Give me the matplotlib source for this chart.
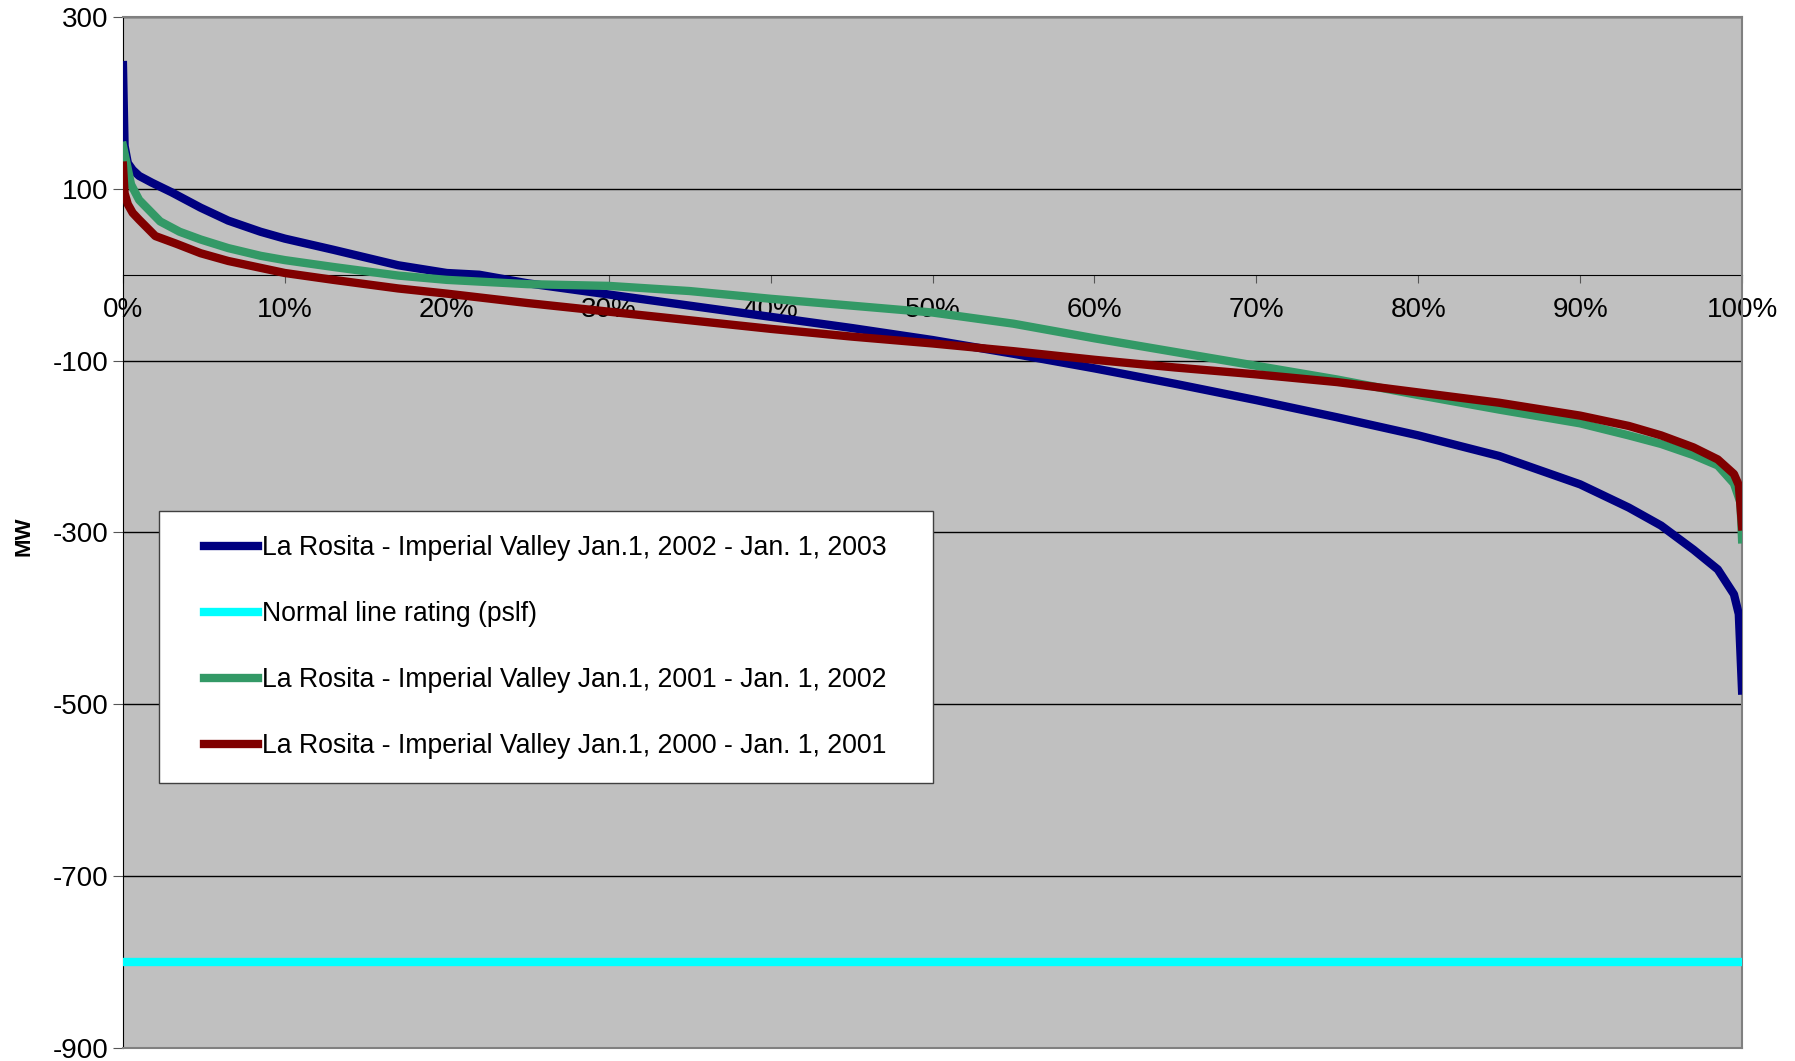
# load duration curves, La Rosita - Imperial Valley

import matplotlib.pyplot as plt
from matplotlib.ticker import FuncFormatter
from matplotlib.legend_handler import HandlerLine2D

plt.rcParams['font.family'] = ['Liberation Sans', 'DejaVu Sans']
plt.rcParams['axes.unicode_minus'] = False

# percent of hours exceeded vs MW
blue_pct = [0, 0.1, 0.3, 0.6, 1.0, 1.8, 3, 4.8, 6.5, 8.5, 10, 13, 17, 20, 22, 25, 30, 35, 40,
            45, 50, 55, 60, 65, 70, 75, 80, 85, 90, 93, 95, 97, 98.5, 99.5, 99.8, 100]
blue_val = [244, 150, 130, 122, 115, 107, 96, 78, 63, 50, 42, 29, 11, 2, 0, -10, -23, -36, -49,
            -62, -76, -92, -109, -127, -146, -166, -187, -211, -244, -271, -292, -320, -343, -372, -395, -484]

green_pct = [0, 0.2, 0.5, 1, 2.3, 3.5, 4.8, 6.5, 8.5, 10, 13, 17, 20, 25, 30, 35, 40, 45, 50,
             55, 60, 65, 70, 75, 80, 85, 90, 93, 95, 97, 98.5, 99.5, 99.9, 100]
green_val = [150, 132, 105, 87, 62, 50, 41, 31, 22, 17, 9, -1, -6, -11, -13, -19, -28, -36, -44,
             -57, -74, -90, -106, -122, -140, -157, -173, -187, -197, -210, -222, -243, -265, -308]

red_pct = [0, 0.1, 0.3, 0.6, 1, 2, 3.3, 4.8, 6.5, 8.5, 10, 13, 17, 20, 25, 30, 35, 40, 45, 50,
           55, 60, 65, 70, 75, 80, 85, 90, 93, 95, 97, 98.5, 99.5, 99.8, 100]
red_val = [127, 95, 82, 72, 64, 45, 36, 25, 16, 8, 2, -6, -16, -22, -33, -43, -53, -63, -72, -80,
           -89, -99, -108, -116, -125, -137, -149, -164, -176, -187, -201, -215, -232, -245, -293]

rating_pct = [0, 100]
rating_val = [-800, -800]

labels = ["La Rosita - Imperial Valley Jan.1, 2002 - Jan. 1, 2003",
          "Normal line rating (pslf)",
          "La Rosita - Imperial Valley Jan.1, 2001 - Jan. 1, 2002",
          "La Rosita - Imperial Valley Jan.1, 2000 - Jan. 1, 2001"]

fig = plt.figure(figsize=(17.95, 10.61), dpi=100)
ax = fig.add_axes([0.0685, 0.0123, 0.902, 0.9717])
ax.set_facecolor('#C0C0C0')

ax.plot(blue_pct, blue_val, color='#000080', lw=6, label=labels[0], zorder=3)
ax.plot(rating_pct, rating_val, color='#00FFFF', lw=6, label=labels[1], zorder=3)
ax.plot(green_pct, green_val, color='#339966', lw=6, label=labels[2], zorder=3)
ax.plot(red_pct, red_val, color='#800000', lw=6, label=labels[3], zorder=3)

ax.set_xlim(0, 100)
ax.set_ylim(-900, 300)
ax.set_yticks(range(-900, 301, 200))
ax.grid(True, axis='y', color='black', lw=1)
ax.tick_params(axis='y', labelsize=20, length=7, color='#555555')

# x axis crosses at zero
ax.set_xticks([])
sec = ax.secondary_xaxis(0.75)
sec.set_xticks(range(0, 101, 10))
sec.xaxis.set_major_formatter(FuncFormatter(lambda v, p: f"{int(v)}%"))
sec.xaxis.set_ticks_position('bottom')
sec.tick_params(axis='x', labelsize=20, length=6, direction='out', pad=10, color='#555555',
                labelbottom=True, labeltop=False, bottom=True, top=False)
for s in sec.spines.values():
    s.set_color('black')

ax.spines['left'].set_color('black')
for s in ['top', 'right', 'bottom']:
    ax.spines[s].set_color('#808080')
    ax.spines[s].set_linewidth(1.5)

fig.text(0.0135, 0.495, "MW", rotation=90, fontsize=16, fontweight='bold', va='center', ha='center')

leg = ax.legend(loc='upper left', bbox_to_anchor=(0.0222, 0.5209, 0.478, 0.0), mode='expand',
                fontsize=19.2, frameon=True, fancybox=False, edgecolor='#404040', framealpha=1,
                handlelength=2.8, handletextpad=0.15, labelspacing=1.5, borderpad=0.9,
                borderaxespad=0, handler_map={plt.Line2D: HandlerLine2D(xpad=0.8)})
leg.get_frame().set_linewidth(1)

fig.savefig('out.png', dpi=100)
